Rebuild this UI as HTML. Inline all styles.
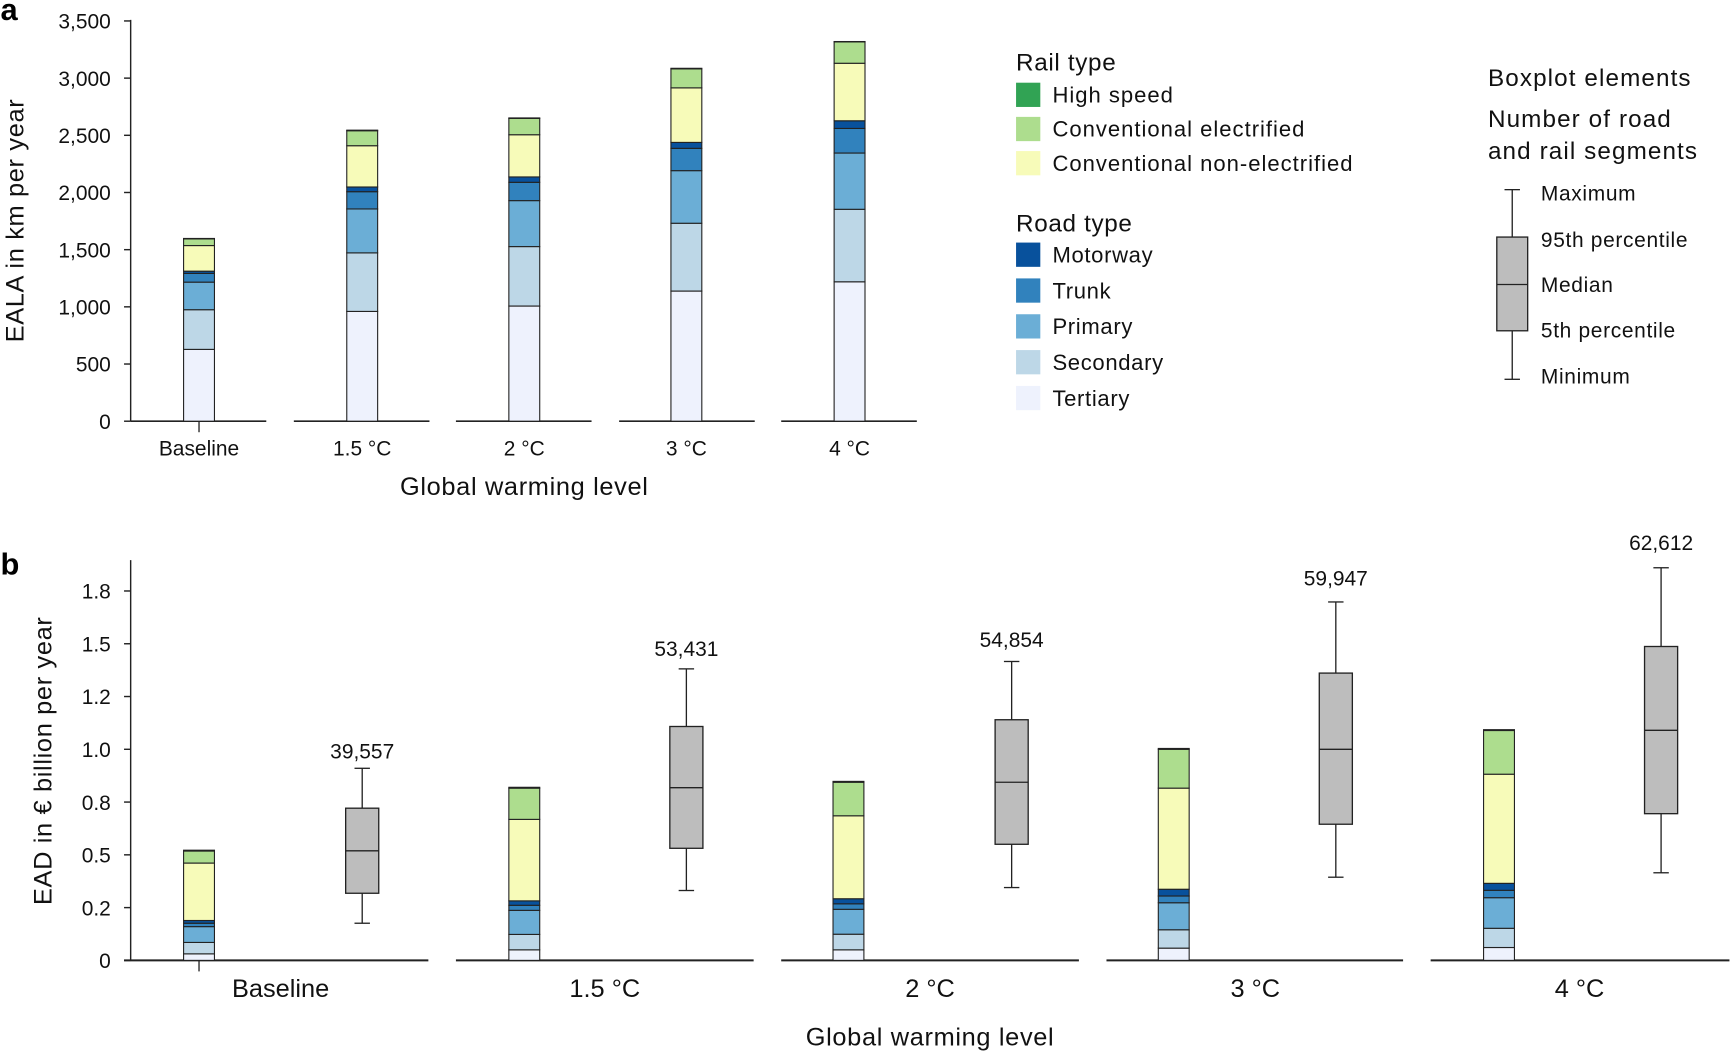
<!DOCTYPE html>
<html><head><meta charset="utf-8"><style>
html,body{margin:0;padding:0;background:#fff;}
svg{display:block;font-family:"Liberation Sans",sans-serif;}
</style></head><body>
<svg id="s" width="1730" height="1053" viewBox="0 0 1568 955" xmlns="http://www.w3.org/2000/svg"></svg>
<script>
const S=document.getElementById('s');const NS='http://www.w3.org/2000/svg';
function el(t,a,txt){const e=document.createElementNS(NS,t);for(const k in a)e.setAttribute(k,a[k]);if(txt!==undefined)e.textContent=txt;S.appendChild(e);return e;}
function txt(x,y,s,size,anchor,extra){return el('text',Object.assign({x:x,y:y,'font-size':size,'text-anchor':anchor||'start',fill:'#111'},extra||{}),s);}
const C=['#eef2fd','#bdd7e7','#6baed6','#3182bd','#08519c','#f7fbb9','#addd8e','#31a354'];
const LS={'letter-spacing':'0.6'};
// Panel a
el('text',{x:0,y:18,'font-size':28,'font-weight':'bold',fill:'#000'},'a');
const ya=v=>382-v*(363/3500);
el('line',{x1:118,y1:18,x2:118,y2:382,stroke:'#222','stroke-width':1.3});
for(let v=0;v<=3500;v+=500){const y=ya(v);el('line',{x1:112,y1:y,x2:118,y2:y,stroke:'#222','stroke-width':1.3});txt(100,y+7,v.toLocaleString('en-US'),19,'end');}
[[118,241],[266,389],[413,536],[561,684],[708,831]].forEach(s=>el('line',{x1:s[0],y1:382,x2:s[1],y2:382,stroke:'#222','stroke-width':1.5}));
el('line',{x1:180,y1:382,x2:180,y2:392,stroke:'#222','stroke-width':1.2});
const A=[[166,[628,975,1216,1292,1312,1536,1594,1598],'Baseline'],[314,[960,1472,1856,2007,2048,2409,2540,2545],'1.5 °C'],[461,[1007,1527,1929,2089,2136,2505,2648,2652],'2 °C'],[608,[1138,1731,2191,2386,2438,2915,3081,3086],'3 °C'],[756,[1219,1853,2345,2560,2627,3130,3317,3320],'4 °C']];
A.forEach(b=>{let prev=0;b[1].forEach((v,i)=>{el('rect',{x:b[0],y:ya(v),width:28,height:ya(prev)-ya(v),fill:C[i],stroke:'#222','stroke-width':1});prev=v;});txt(b[0]+14,413,b[2],19,'middle');});
txt(475,449,'Global warming level',23,'middle',LS);
txt(21,200,'EALA in km per year',23,'middle',Object.assign({transform:'rotate(-90 21 200)'},LS));
// Legend
txt(921,64,'Rail type',22,'start',LS);
[['High speed',7],['Conventional electrified',6],['Conventional non-electrified',5]].forEach((r,i)=>{const y=86+i*31;el('rect',{x:921,y:y-11,width:22,height:22,fill:C[r[1]]});txt(954,y+7,r[0],20,'start',{'letter-spacing':'0.9'});});
txt(921,210,'Road type',22,'start',LS);
[['Motorway',4],['Trunk',3],['Primary',2],['Secondary',1],['Tertiary',0]].forEach((r,i)=>{const y=231+i*32.5;el('rect',{x:921,y:y-11,width:22,height:22,fill:C[r[1]]});txt(954,y+7,r[0],20,'start',LS);});
txt(1349,78,'Boxplot elements',22,'start',{'letter-spacing':'1'});txt(1349,115,'Number of road',22,'start',{'letter-spacing':'1'});txt(1349,144,'and rail segments',22,'start',{'letter-spacing':'1'});
el('line',{x1:1371,y1:172,x2:1371,y2:344,stroke:'#222','stroke-width':1.2});
el('line',{x1:1364,y1:172,x2:1378,y2:172,stroke:'#222','stroke-width':1.2});el('line',{x1:1364,y1:344,x2:1378,y2:344,stroke:'#222','stroke-width':1.2});
el('rect',{x:1357,y:215,width:28,height:85,fill:'#bdbdbd',stroke:'#222','stroke-width':1.2});
el('line',{x1:1357,y1:258,x2:1385,y2:258,stroke:'#222','stroke-width':1.2});
[['Maximum',175],['95th percentile',217],['Median',258],['5th percentile',299],['Minimum',341]].forEach(r=>txt(1397,r[1]+7,r[0],19,'start',LS));
// Panel b
el('text',{x:0,y:521,'font-size':28,'font-weight':'bold',fill:'#000'},'b');
const yb=v=>871-v/0.25*47.86;
el('line',{x1:118,y1:508,x2:118,y2:871,stroke:'#222','stroke-width':1.3});
['0','0.2','0.5','0.8','1.0','1.2','1.5','1.8'].forEach((l,i)=>{const y=871-i*47.86;el('line',{x1:112,y1:y,x2:118,y2:y,stroke:'#222','stroke-width':1.3});txt(100,y+7,l,19,'end');});
[[112,388],[413,683],[708,978],[1003,1272],[1297,1568]].forEach(s=>el('line',{x1:s[0],y1:871,x2:s[1],y2:871,stroke:'#222','stroke-width':1.8}));
el('line',{x1:180,y1:871,x2:180,y2:881,stroke:'#222','stroke-width':1.2});
const B=[[166,[0.031,0.085,0.16,0.176,0.189,0.461,0.518,0.522],328,[0.176,0.318,0.519,0.721,0.91],'39,557',681,'Baseline',254],
[461,[0.05,0.123,0.237,0.261,0.282,0.668,0.816,0.82],622,[0.331,0.531,0.818,1.108,1.381],'53,431',588,'1.5 °C',548],
[755,[0.05,0.124,0.242,0.268,0.292,0.685,0.844,0.848],917,[0.345,0.55,0.844,1.14,1.416],'54,854',580,'2 °C',843],
[1050,[0.058,0.145,0.273,0.305,0.337,0.816,1.0,1.004],1211,[0.394,0.645,1.0,1.361,1.698],'59,947',524,'3 °C',1138],
[1345,[0.061,0.152,0.297,0.332,0.365,0.882,1.089,1.093],1506,[0.415,0.695,1.09,1.487,1.86],'62,612',492,'4 °C',1432]];
B.forEach(b=>{let prev=0;b[1].forEach((v,i)=>{el('rect',{x:b[0],y:yb(v),width:28,height:yb(prev)-yb(v),fill:C[i],stroke:'#222','stroke-width':1});prev=v;});
const c=b[2],q=b[3];
el('line',{x1:c,y1:yb(q[0]),x2:c,y2:yb(q[4]),stroke:'#222','stroke-width':1.2});
el('line',{x1:c-7,y1:yb(q[0]),x2:c+7,y2:yb(q[0]),stroke:'#222','stroke-width':1.2});
el('line',{x1:c-7,y1:yb(q[4]),x2:c+7,y2:yb(q[4]),stroke:'#222','stroke-width':1.2});
el('rect',{x:c-15,y:yb(q[3]),width:30,height:yb(q[1])-yb(q[3]),fill:'#bdbdbd',stroke:'#222','stroke-width':1.2});
el('line',{x1:c-15,y1:yb(q[2]),x2:c+15,y2:yb(q[2]),stroke:'#222','stroke-width':1.2});
txt(c,b[5]+7,b[4],19,'middle');txt(b[7],904,b[6],23,'middle');});
txt(843,948,'Global warming level',23,'middle',LS);
txt(46,690,'EAD in € billion per year',23,'middle',Object.assign({transform:'rotate(-90 46 690)'},LS));
</script>
</body></html>
